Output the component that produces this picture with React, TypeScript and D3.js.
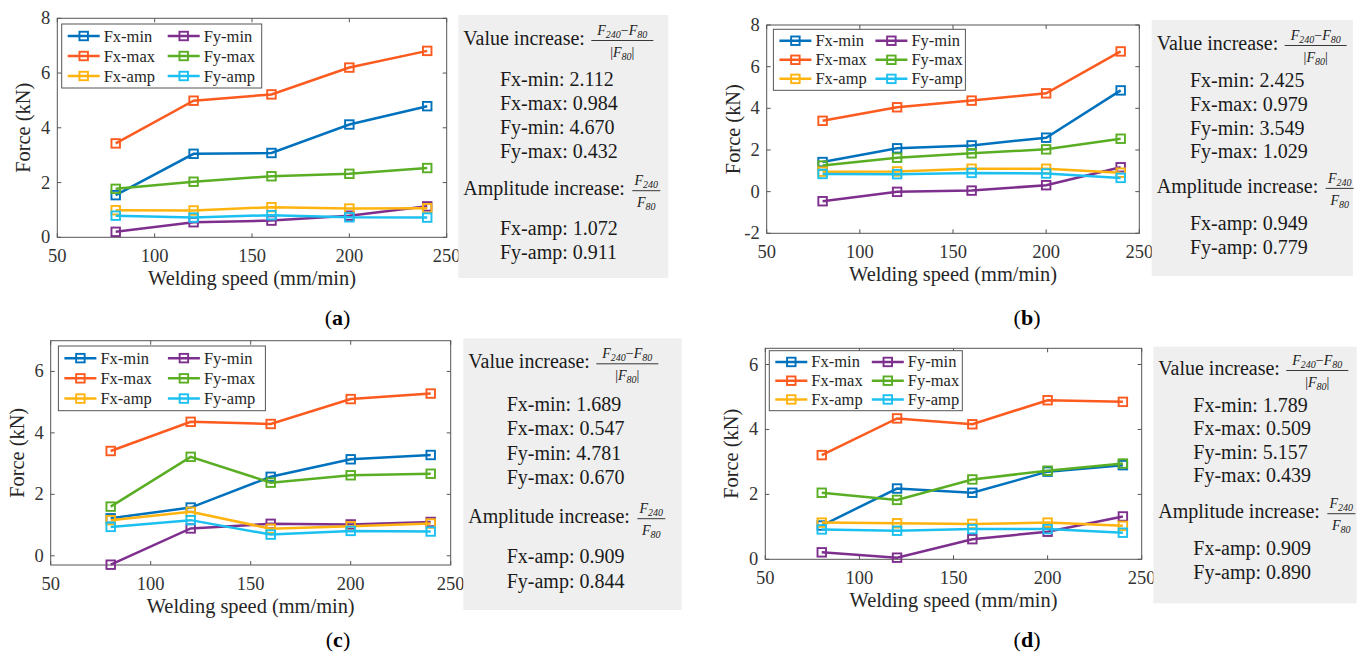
import React from "react";
import * as d3 from "d3";

// welding speeds (mm/min)
const speeds = [80, 120, 160, 200, 240];
const xTicks = [50, 100, 150, 200, 250];

// series order = MATLAB legend order (row-wise, 2 columns)
const seriesNames = ["Fx-min", "Fy-min", "Fx-max", "Fy-max", "Fx-amp", "Fy-amp"];
const seriesColors = ["#0072BD", "#7E2F8E", "#FC5A1E", "#5AAE24", "#FFB30F", "#1CC0F0"];

// (a)
const aFxMin = [1.54, 3.05, 3.08, 4.12, 4.79];
const aFyMin = [0.2, 0.55, 0.61, 0.79, 1.13];
const aFxMax = [3.43, 4.99, 5.22, 6.2, 6.81];
const aFyMax = [1.77, 2.03, 2.23, 2.32, 2.53];
const aFxAmp = [0.99, 0.98, 1.1, 1.05, 1.06];
const aFyAmp = [0.79, 0.72, 0.81, 0.73, 0.72];
// (b)
const bFxMin = [1.42, 2.08, 2.22, 2.59, 4.86];
const bFyMin = [-0.46, -0.01, 0.05, 0.31, 1.17];
const bFxMax = [3.4, 4.05, 4.37, 4.72, 6.73];
const bFyMax = [1.25, 1.63, 1.84, 2.03, 2.54];
const bFxAmp = [0.96, 0.97, 1.1, 1.1, 0.91];
const bFyAmp = [0.85, 0.84, 0.9, 0.87, 0.66];
// (c)
const cFxMin = [1.22, 1.57, 2.57, 3.14, 3.28];
const cFyMin = [-0.29, 0.89, 1.04, 1.02, 1.1];
const cFxMax = [3.41, 4.36, 4.29, 5.1, 5.28];
const cFyMax = [1.6, 3.22, 2.38, 2.62, 2.67];
const cFxAmp = [1.16, 1.43, 0.88, 0.96, 1.05];
const cFyAmp = [0.94, 1.16, 0.69, 0.81, 0.79];
// (d)
const dFxMin = [1.04, 2.18, 2.05, 2.7, 2.9];
const dFyMin = [0.215, 0.05, 0.62, 0.85, 1.32];
const dFxMax = [3.21, 4.34, 4.16, 4.9, 4.85];
const dFyMax = [2.05, 1.83, 2.46, 2.73, 2.95];
const dFxAmp = [1.13, 1.11, 1.09, 1.13, 1.03];
const dFyAmp = [0.92, 0.88, 0.93, 0.93, 0.82];

// text box numbers
const valueLabels = ["Fx-min", "Fx-max", "Fy-min", "Fy-max"];
const ampLabels = ["Fx-amp", "Fy-amp"];
const aValueInc = ["2.112", "0.984", "4.670", "0.432"];
const aAmpInc = ["1.072", "0.911"];
const bValueInc = ["2.425", "0.979", "3.549", "1.029"];
const bAmpInc = ["0.949", "0.779"];
const cValueInc = ["1.689", "0.547", "4.781", "0.670"];
const cAmpInc = ["0.909", "0.844"];
const dValueInc = ["1.789", "0.509", "5.157", "0.439"];
const dAmpInc = ["0.909", "0.890"];

// set on every <text>
const TS = { fontFamily: "Liberation Serif" };

const panels = [
  {
    id: "a", series: [aFxMin, aFyMin, aFxMax, aFyMax, aFxAmp, aFyAmp],
    yDomain: [0, 8], yTicks: [0, 2, 4, 6, 8],
    left: 57.3, right: 446.7, top: 18.3, bottom: 237.3,
    legend: { dx: 4.4, dy: 5.7, w: 200, h: 64 },
    box: { x: 458.3, y: 15, w: 210, h: 263, tx: 463.3, lx: 500, valueY: 45, firstY: 86, step: 24, ampY: 195, ampFirstY: 235 },
    values: aValueInc, amps: aAmpInc,
    caption: { x: 337.5, y: 325 },
  },
  {
    id: "b", series: [bFxMin, bFyMin, bFxMax, bFyMax, bFxAmp, bFyAmp],
    yDomain: [-2, 8], yTicks: [-2, 0, 2, 4, 6, 8],
    left: 766.7, right: 1139.3, top: 25, bottom: 233.3,
    legend: { dx: 6.7, dy: 4.3, w: 192, h: 61 },
    box: { x: 1151.7, y: 20, w: 201.3, h: 256, tx: 1156.7, lx: 1190, valueY: 50, firstY: 87.3, step: 23.7, ampY: 192.7, ampFirstY: 230 },
    values: bValueInc, amps: bAmpInc,
    caption: { x: 1027, y: 325 },
  },
  {
    id: "c", series: [cFxMin, cFyMin, cFxMax, cFyMax, cFxAmp, cFyAmp],
    yDomain: [-0.3, 7], yTicks: [0, 2, 4, 6],
    left: 50.7, right: 450.7, top: 340.7, bottom: 565,
    legend: { dx: 7.7, dy: 5.3, w: 207, h: 64.7 },
    box: { x: 463.3, y: 338.3, w: 218.4, h: 271.7, tx: 468.3, lx: 506.7, valueY: 368.3, firstY: 410.7, step: 24.5, ampY: 523, ampFirstY: 563 },
    values: cValueInc, amps: cAmpInc,
    caption: { x: 338, y: 647 },
  },
  {
    id: "d", series: [dFxMin, dFyMin, dFxMax, dFyMax, dFxAmp, dFyAmp],
    yDomain: [0, 6.5], yTicks: [0, 2, 4, 6],
    left: 765.3, right: 1141.7, top: 348.3, bottom: 559.3,
    legend: { dx: 4, dy: 2.4, w: 193, h: 60 },
    box: { x: 1153.3, y: 346.7, w: 203.4, h: 256.6, tx: 1158.3, lx: 1193.3, valueY: 375, firstY: 411.7, step: 23.5, ampY: 518, ampFirstY: 555 },
    values: dValueInc, amps: dAmpInc,
    caption: { x: 1027, y: 647 },
  },
];

function Marker({ cx, cy, color }) {
  const s = 8.5;
  return <rect x={cx - s / 2} y={cy - s / 2} width={s} height={s} fill="none" stroke={color} strokeWidth={1.9} />;
}

function Panel({ p }) {
  const x = d3.scaleLinear().domain([50, 250]).range([p.left, p.right]);
  const y = d3.scaleLinear().domain(p.yDomain).range([p.bottom, p.top]);
  const line = d3.line<number>().x((_, i) => x(speeds[i])).y((d) => y(d));
  const axisColor = "#555";
  const tl = 4;

  const lg = p.legend;
  const lx0 = p.left + lg.dx;
  const ly0 = p.top + lg.dy;
  const rowH = lg.h / 3.2;
  const colW = lg.w / 2;

  return (
    <g>
      <rect x={p.left} y={p.top} width={p.right - p.left} height={p.bottom - p.top} fill="#fff" stroke={axisColor} strokeWidth={1} />
      {xTicks.map((t) => (
        <g key={"x" + t}>
          <line x1={x(t)} x2={x(t)} y1={p.bottom} y2={p.bottom - tl} stroke={axisColor} />
          <line x1={x(t)} x2={x(t)} y1={p.top} y2={p.top + tl} stroke={axisColor} />
          <text style={TS} x={x(t)} y={p.bottom + 25} textAnchor="middle" fontSize={18.5} fill="#333">{t}</text>
        </g>
      ))}
      {p.yTicks.map((t) => (
        <g key={"y" + t}>
          <line x1={p.left} x2={p.left + tl} y1={y(t)} y2={y(t)} stroke={axisColor} />
          <line x1={p.right} x2={p.right - tl} y1={y(t)} y2={y(t)} stroke={axisColor} />
          <text style={TS} x={p.left - 7} y={y(t) + 6} textAnchor="end" fontSize={18.5} fill="#333">{t}</text>
        </g>
      ))}
      <text style={TS} x={(p.left + p.right) / 2} y={p.bottom + 48} textAnchor="middle" fontSize={20.4} fill="#262626">Welding speed (mm/min)</text>
      <text style={TS} transform={`translate(${p.left - 33},${(p.top + p.bottom) / 2}) rotate(-90)`} textAnchor="middle" dy={6} fontSize={20.4} fill="#262626">Force (kN)</text>

      {p.series.map((vals, si) => (
        <g key={"s" + si}>
          <path d={line(vals) || ""} fill="none" stroke={seriesColors[si]} strokeWidth={2.5} />
          {vals.map((v, i) => (
            <Marker key={i} cx={x(speeds[i])} cy={y(v)} color={seriesColors[si]} />
          ))}
        </g>
      ))}

      <rect x={lx0} y={ly0} width={lg.w} height={lg.h} fill="#fff" stroke={axisColor} strokeWidth={1} />
      {seriesNames.map((name, si) => {
        const col = si % 2;
        const row = Math.floor(si / 2);
        const cy = ly0 + rowH * 0.6 + row * rowH;
        const sx = lx0 + 6 + col * colW;
        return (
          <g key={"l" + si}>
            <line x1={sx} x2={sx + 32} y1={cy} y2={cy} stroke={seriesColors[si]} strokeWidth={2.5} />
            <Marker cx={sx + 16} cy={cy} color={seriesColors[si]} />
            <text style={TS} x={sx + 36} y={cy + 5.5} fontSize={16.5} fill="#262626">{name}</text>
          </g>
        );
      })}

      <InfoBox p={p} />
      <text style={TS} x={p.caption.x} y={p.caption.y} textAnchor="middle" fontSize={22} fill="#000">
        (<tspan fontWeight="bold">{p.id}</tspan>)
      </text>
    </g>
  );
}

function FracPart({ x, y, sub }) {
  return (
    <text style={TS} x={x} y={y} textAnchor="middle" fontSize={14} fontStyle="italic" fill="#222">
      F<tspan fontSize={10} dy={3}>{sub}</tspan>
    </text>
  );
}

function InfoBox({ p }) {
  const b = p.box;
  const fx = b.tx + 159;
  const ax = b.tx + 183;
  return (
    <g fill="#1a1a1a">
      <rect x={b.x} y={b.y} width={b.w} height={b.h} fill="#efefef" />
      <text style={TS} fontSize={20} x={b.tx} y={b.valueY}>Value increase:</text>
      <text style={TS} x={fx} y={b.valueY - 10} textAnchor="middle" fontSize={14} fontStyle="italic" fill="#222">
        F<tspan fontSize={10} dy={3}>240</tspan><tspan fontStyle="normal" dy={-3}>−</tspan>F<tspan fontSize={10} dy={3}>80</tspan>
      </text>
      <line x1={fx - 31} x2={fx + 31} y1={b.valueY - 4.5} y2={b.valueY - 4.5} stroke="#222" strokeWidth={0.9} />
      <text style={TS} x={fx} y={b.valueY + 12} textAnchor="middle" fontSize={14} fontStyle="italic" fill="#222">
        <tspan fontStyle="normal">|</tspan>F<tspan fontSize={10} dy={3}>80</tspan><tspan fontStyle="normal" dy={-3}>|</tspan>
      </text>
      {p.values.map((v, i) => (
        <text style={TS} fontSize={20} key={"v" + i} x={b.lx} y={b.firstY + i * b.step}>{`${valueLabels[i]}: ${v}`}</text>
      ))}
      <text style={TS} fontSize={20} x={b.tx} y={b.ampY}>Amplitude increase:</text>
      <FracPart x={ax} y={b.ampY - 10} sub="240" />
      <line x1={ax - 14} x2={ax + 14} y1={b.ampY - 4.3} y2={b.ampY - 4.3} stroke="#222" strokeWidth={0.9} />
      <FracPart x={ax} y={b.ampY + 12} sub="80" />
      {p.amps.map((v, i) => (
        <text style={TS} fontSize={20} key={"a" + i} x={b.lx} y={b.ampFirstY + i * b.step}>{`${ampLabels[i]}: ${v}`}</text>
      ))}
    </g>
  );
}

export default function App() {
  return (
    <svg width={1363} height={660} style={{ position: "absolute", left: 0, top: 0, background: "#fff" }}>
      <rect width={1363} height={660} fill="#fff" />
      {panels.map((p) => (
        <Panel key={p.id} p={p} />
      ))}
    </svg>
  );
}
